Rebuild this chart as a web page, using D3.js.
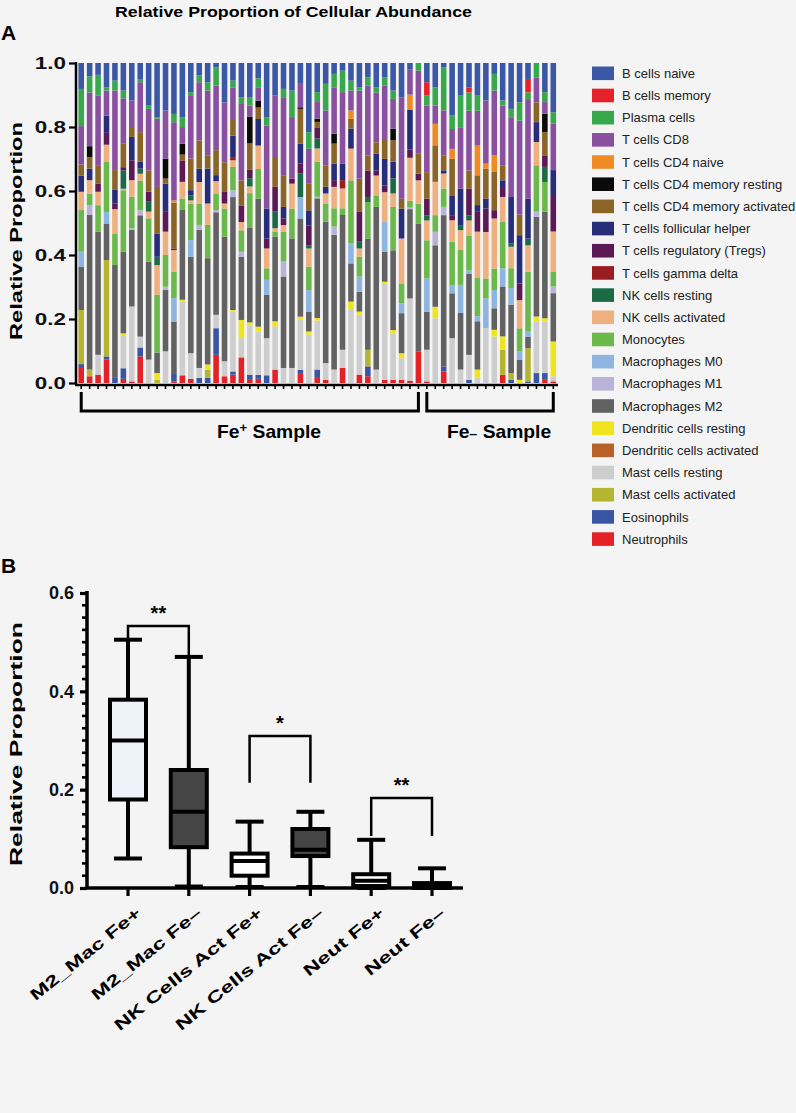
<!DOCTYPE html>
<html><head><meta charset="utf-8">
<script src="https://cdn.jsdelivr.net/npm/d3@7"></script>
<style>
body{margin:0;background:#f4f4f4;}
svg{display:block;font-family:"Liberation Sans",Arial,Helvetica,sans-serif;}
</style>
</head><body>
<svg id="chart" width="796" height="1113"></svg>
<script>
// ---------- DATA ----------
// cell types listed bottom -> top of the stack (legend shows them reversed)
const cellTypes = ["Neutrophils","Eosinophils","Mast cells activated","Mast cells resting",
  "Dendritic cells activated","Dendritic cells resting","Macrophages M2","Macrophages M1",
  "Macrophages M0","Monocytes","NK cells activated","NK cells resting","T cells gamma delta",
  "T cells regulatory (Tregs)","T cells follicular helper","T cells CD4 memory activated",
  "T cells CD4 memory resting","T cells CD4 naive","T cells CD8","Plasma cells","B cells memory","B cells naive"];
const cellColors = ["#e42127","#3a55a3","#b5b532","#cdcdcd","#b8622a","#f0e41e","#626262","#b9b3d9",
  "#8db5df","#6bb84b","#efb07f","#1b6a45","#9a1d20","#5b1a56","#272d78","#8b6428",
  "#0a0a0a","#ef8a25","#8a50a0","#38a84c","#e7212a","#3b58a6"];
const groupNames = ["Fe\u207A Sample","Fe\u2013 Sample"];
const groupSizes = [41,16];
// one row per sample, values in cellTypes order (percent)
const sampleProportions = [
[4.7,1.2,16.9,0,0,0,13.4,0,4.8,13.0,5.7,0,0,0,5.0,3.5,0,0,12.0,11.6,0,8.1],
[2.1,0,2.1,0,0,0,48.3,3.1,0,3.6,4.2,0,0,0,3.6,3.6,3.4,0,16.8,5.0,0,4.2],
[2.6,0,0,6.2,0,0,38.4,0,0,8.3,4.2,0,0,2.6,0,5.7,0,0,21.8,6.4,0,3.7],
[7.3,1.0,30.1,0,0,0,11.4,0,3.6,15.6,5.4,0,0,3.9,5.2,0,0,0,7.8,1.0,0,7.6],
[0,1.6,0,0,0,0,35.3,0,0,9.9,7.6,0,0,1.8,4.2,6.2,0,0,24.9,3.1,0,5.5],
[1.3,3.3,0,10.1,0,0.8,25.4,0,0,19.2,0.5,5.7,0,1.0,0,7.3,0,0,14.2,2.4,0,8.6],
[0.5,0,0,23.4,0,0,23.9,0.5,0,9.9,5.2,0,0,6.2,7.3,3.1,0,0,8.3,0,0,11.7],
[8.3,2.8,0,3.4,0,0,37.9,1.6,0,9.3,2.1,1.6,0,0,2.1,9.3,0,0,15.6,1.0,0,5.0],
[0,0,0,7.3,0,0,30.6,0,0,13.5,2.1,3.1,0,3.1,0,6.7,0,0,19.2,1.0,0,13.3],
[0,0,1.0,0,0,2.1,6.4,0,0,18.0,9.3,2.6,0,0,7.3,14.5,0,0,21.3,0.5,0,16.9],
[0,0,0,9.9,0,0,19.2,1.0,0,9.9,7.3,0,0,6.2,8.8,1.6,6.2,0,15.1,0,0,14.8],
[0.5,2.3,0,0,0,0,16.4,0,7.3,8.3,6.7,0,0,0.5,0,14.3,0,0.7,24.4,2.6,0,15.9],
[2.4,0,0,23.1,0,0.5,28.0,0,0,3.6,5.2,0,0,6.7,0,1.8,3.4,0,5.2,3.1,0,16.9],
[1.3,0,0,8.0,0,0,30.1,0,5.2,11.4,1.0,1.6,0,0,1.6,9.9,0,0,19.5,1.2,0,9.1],
[0,1.6,0,3.1,0,0,43.1,1.6,0,6.7,6.7,0,0,0,4.2,8.8,0,0,18.2,2.1,0,3.9],
[0,1.6,2.6,0,0,1.6,33.2,0,0,10.4,6.7,0,0,0,10.9,4.2,0,0,20.2,2.6,0,6.0],
[8.8,8.3,0,4.2,0,0,32.0,0.7,0,5.2,3.8,0,0,0,1.9,7.8,0,0,20.2,5.7,0,1.3],
[2.1,0,0,4.7,0,0,38.9,0,0,8.8,1.6,0,0,3.6,0,9.3,0,0,18.7,0,0,12.3],
[2.6,1.0,0,18.7,0,0.5,35.3,2.1,0,7.3,2.1,0,1.0,0,6.7,5.2,0,0,9.9,2.1,0,5.5],
[7.8,0,0.5,5.7,0,5.7,19.7,1.6,0,6.7,2.6,0,0,5.2,0,7.8,0,0,23.9,2.1,0,10.7],
[1.0,1.6,0,15.4,0,1.0,29.6,0,0,10.9,2.1,2.6,0,2.6,0,8.3,8.3,0,3.6,2.6,0,10.7],
[1.3,1.2,0,13.5,0,1.6,40.0,0,0,9.3,7.3,0,0,0,8.3,3.6,2.1,0,4.2,2.8,0,4.8],
[0,2.4,0,11.6,0,0,13.5,0,4.7,3.6,6.2,0,0,3.1,9.3,0,0,0,26.0,2.6,0,16.9],
[4.2,0,0,13.5,0,1.6,26.5,0,0,1.6,1.0,5.2,0,7.8,0,9.3,0,0,19.2,0,0,10.2],
[0,0,0,4.7,0,0,28.6,4.7,0,9.3,2.1,0,0,2.1,3.6,9.9,0,0,24.4,2.6,0,8.1],
[0,0,0,4.7,0,0,40.5,0,0,9.3,7.8,0,0,1.6,0,0,0,0,19.2,8.3,0,8.6],
[3.1,1.0,0,15.6,0,1.0,30.6,0,6.7,0,0,7.3,0,3.1,6.2,10.9,0.5,0,7.3,0,0,6.5],
[0,0,0,15.1,0,1.0,6.2,0,6.7,7.3,5.7,1.0,0,6.2,4.7,8.3,0,0,10.9,5.2,0,21.6],
[1.6,2.6,0,15.3,0,0.8,37.4,0.5,0,10.9,4.2,3.1,0,3.3,0,1.9,1.0,0,5.2,3.1,0,9.1],
[1.0,0,0,5.2,0,0,44.1,0,0,5.7,3.1,0,0,0,2.1,6.7,0,0,17.1,8.3,0,6.5],
[0,0,0,4.2,0,0,42.1,2.6,0,5.7,6.7,0,0,2.1,5.2,6.2,3.1,0,14.5,4.2,0,3.4],
[4.7,0,0,5.7,0,0,42.1,0,0,2.1,6.2,0,2.6,0,5.2,0,0,0,22.3,6.7,0,2.4],
[0,0,0,22.8,0,2.6,11.9,0,6.2,19.7,9.9,0,0,0.5,5.7,3.1,0,2.6,6.2,3.1,0,5.5],
[2.6,0,0,18.7,0,1.0,6.2,0,4.7,6.2,2.6,2.1,0,9.3,0,10.4,0,0,27.5,1.0,0,7.6],
[2.1,3.1,5.2,0,0,0,34.8,0,0,11.4,0,1.6,0,8.3,0,4.7,0,0,21.8,2.6,0,4.5],
[0,0,0,4.2,0,0,50.9,0,0,3.6,6.2,0,0,1.6,5.2,3.6,0,0,15.6,1.6,0,7.6],
[1.0,0,0,30.1,0,0.5,9.3,0,9.3,0,9.3,0,0,2.1,8.3,6.2,0,0,16.6,2.6,0,4.5],
[1.0,0,0,14.5,0,1.0,24.9,0,0,13.5,4.2,4.7,0,0,5.2,6.7,3.6,0,9.3,2.6,0,8.6],
[1.0,0,0,6.7,0,1.6,12.5,0,3.1,6.2,14.0,0,0,0,9.3,3.1,0,0,31.7,0,0,10.7],
[0.7,0,0,25.8,0,0,28.0,0.5,0,2.1,13.5,0,0,2.6,12.5,0,0,4.7,7.8,0,0,2.1],
[9.9,0,0,0,0,0,40.0,0,0,6.2,7.3,0,0,2.1,0,6.2,0,0,26.0,2.4,0,0],
[0.5,0,0,9.9,0,0,11.9,0,10.4,11.9,6.2,1.6,0,5.2,0,8.3,0,0,20.8,3.1,4.2,6.0],
[0,0,0,20.2,0,3.6,19.2,4.2,0,5.2,10.4,0,0,0,0,11.4,0,6.7,5.7,5.7,0,7.6],
[3.6,1.6,0,0,0,0,47.2,2.6,0,5.7,4.7,0,0,0,1.0,4.7,0,0,14.0,13.5,0,1.3],
[0,0,0,14.0,0,0,14.0,0,2.6,13.5,6.7,0,0,1.6,6.2,11.4,0,3.1,6.2,4.2,0,16.4],
[0,0,0,4.2,0,0,17.7,0,8.8,10.9,6.2,1.6,0,0,11.4,0,0,0,19.2,9.9,0,10.2],
[0,1.0,0,7.8,0,0,25.4,0,1.0,10.9,4.7,1.6,0,8.3,0,5.7,0,0,18.7,5.7,1.6,7.6],
[0,0,0,1.6,0,2.6,15.1,0,1.6,11.9,14.5,0,0,6.2,2.1,9.3,0,9.3,10.9,4.7,0,10.2],
[0,0,0,17.1,0,0,0,0,9.3,6.2,14.5,0,0,7.3,3.1,9.3,0,1.6,19.7,0,0,11.7],
[0,0,0,14.5,0,2.1,6.7,0,5.7,6.7,15.6,0,0,2.6,0,11.9,0,5.2,20.2,5.2,0,3.4],
[2.6,0,7.8,0,0,4.2,15.6,0,5.7,14.5,7.8,0,0,3.1,2.1,4.7,0,0,18.7,1.6,0,11.7],
[0,1.0,2.1,0,0,0,21.3,0,5.2,6.2,6.7,1.0,0,0,14.5,0,0,0,24.9,2.6,0,14.3],
[0,0,0,0,0,1.0,6.2,0,2.6,7.3,8.8,0,0,5.2,15.1,6.4,0,0,29.4,5.7,0,12.3],
[0,0.5,10.4,0,0,0,3.6,0,1.6,18.7,8.3,2.1,0,0,12.5,0,0,0,31.2,2.1,4.2,5.0],
[0,3.1,0,16.1,0,1.6,31.2,1.6,0,14.5,7.3,0,0,0,6.2,6.2,0,0,7.8,4.5,0,0],
[1.0,2.1,0,16.1,0,1.0,33.2,0,0,9.3,0,4.7,0,3.6,0,7.3,5.7,0,3.6,3.1,0,9.1],
[0.5,0,0,1.6,0,10.9,15.1,2.1,0,4.7,12.5,0,0,11.4,7.8,0,0,0,14.5,3.6,0,15.4]
];
const yTicksA = [0,0.2,0.4,0.6,0.8,1.0];

// Panel B box plot
const boxCategories = ["M2_Mac Fe+","M2_Mac Fe\u2013","NK Cells Act Fe+","NK Cells Act Fe\u2013","Neut Fe+","Neut Fe\u2013"];
const boxMin    = [0.060,0.003,0.002,0.002,0.000,0.000];
const boxQ1     = [0.180,0.083,0.025,0.065,0.004,0.000];
const boxMedian = [0.300,0.155,0.055,0.078,0.015,0.004];
const boxQ3     = [0.383,0.240,0.070,0.120,0.028,0.010];
const boxMax    = [0.505,0.470,0.135,0.155,0.098,0.040];
const boxFills  = ["#eef3fa","#454545","#ffffff","#454545","#ffffff","#454545"];
const yTicksB = [0,0.2,0.4,0.6];
const sigPairs = [[0,1],[2,3],[4,5]];
const sigLabels = ["**","*","**"];
const sigTop = [0.533,0.309,0.183];
const sigArm = [0.456,0.214,0.106];

// ---------- DRAW ----------
const svg = d3.select("#chart");
svg.append("rect").attr("width",796).attr("height",1113).attr("fill","#f4f4f4");

svg.append("text").attr("x",293.5).attr("y",17).attr("text-anchor","middle")
  .attr("font-size",15.5).attr("font-weight","bold")
  .attr("textLength",357).attr("lengthAdjust","spacingAndGlyphs")
  .text("Relative Proportion of Cellular Abundance");
svg.append("text").attr("x",1).attr("y",40).attr("font-size",21).attr("font-weight","bold").text("A");

const nSamples = sampleProportions.length;
const samples = d3.range(nSamples);
const table = sampleProportions.map((row,i)=>{
  const s = d3.sum(row); const o = {id:i};
  cellTypes.forEach((k,j)=>o[k]=row[j]/s); return o;
});
const xA = d3.scaleBand().domain(samples).range([77,557.5]).paddingInner(0.34).paddingOuter(0.17);
const yA = d3.scaleLinear().domain([0,1]).range([383,63]);
const stack = d3.stack().keys(cellTypes)(table);

const gBars = svg.append("g");
stack.forEach((layer,li)=>{
  gBars.append("g").attr("fill",cellColors[li]).selectAll("rect").data(layer).join("rect")
    .attr("x",d=>xA(d.data.id)).attr("width",xA.bandwidth())
    .attr("y",d=>yA(d[1])).attr("height",d=>Math.max(0,yA(d[0])-yA(d[1])));
});

// y axis A
const sxA = 1.36;
const axA = svg.append("g").attr("transform","translate(76,0)")
  .call(d3.axisLeft(yA).tickValues(yTicksA).tickFormat(d3.format(".1f")).tickSize(7).tickPadding(3));
axA.select(".domain").attr("stroke-width",2.5).attr("d","M0,62V385");
axA.selectAll(".tick line").attr("stroke-width",2.2);
axA.selectAll(".tick text").attr("font-size",16.5).attr("font-weight","bold")
  .attr("font-family","Liberation Sans, Arial, sans-serif").attr("fill","#111")
  .attr("x",-10/sxA).attr("transform",`scale(${sxA},1)`);

// x axis A
const axX = svg.append("g").attr("transform","translate(0,385)")
  .call(d3.axisBottom(xA).tickSize(4).tickFormat(""));
axX.select(".domain").attr("stroke-width",2.5).attr("d","M75,0H558");
axX.selectAll(".tick line").attr("stroke-width",1.6).attr("y1",1);

// group brackets
let start = 0;
const labelCenters = [269,499];
groupSizes.forEach((n,gi)=>{
  const x0 = xA(start)+xA.bandwidth()/2, x1 = xA(start+n-1)+xA.bandwidth()/2;
  svg.append("path").attr("d",`M${x0},392V411H${x1}V392`).attr("fill","none")
    .attr("stroke","#000").attr("stroke-width",3);
  const t = svg.append("text").attr("transform",`translate(${labelCenters[gi]},438) scale(1.1,1)`)
    .attr("text-anchor","middle").attr("font-size",17.5).attr("font-weight","bold");
  const nm = groupNames[gi];
  t.append("tspan").text(nm.slice(0,2));
  if(gi===0){
    t.append("tspan").attr("font-size",12).attr("dy",-6).text("+");
    t.append("tspan").attr("dy",6).text(nm.slice(3));
  } else {
    t.append("tspan").attr("font-size",13).text("\u2013");
    t.append("tspan").text(nm.slice(3));
  }
  start += n;
});

// y label A
svg.append("text").attr("transform","translate(22,231) rotate(-90)").attr("text-anchor","middle")
  .attr("font-size",16.5).attr("font-weight","bold")
  .attr("textLength",218).attr("lengthAdjust","spacingAndGlyphs").text("Relative Proportion");

// legend
const legend = svg.append("g");
const legendItems = cellTypes.map((c,i)=>({c,col:cellColors[i]})).reverse();
legendItems.forEach((d,i)=>{
  const cy = 73.3 + i*22.18;
  legend.append("rect").attr("x",592).attr("y",cy-6.8).attr("width",22).attr("height",13.6).attr("fill",d.col);
  legend.append("text").attr("x",622).attr("y",cy+4.6).attr("font-size",13).attr("fill","#222").text(d.c);
});

// ---------- Panel B ----------
svg.append("text").attr("x",1).attr("y",573).attr("font-size",21).attr("font-weight","bold").text("B");
const yB = d3.scaleLinear().domain([0,0.6]).range([888,593]);
const xB = d3.scalePoint().domain(boxCategories).range([128,432]);
const boxW = 36, capW = 28;

const axB = svg.append("g").attr("transform","translate(87,0)")
  .call(d3.axisLeft(yB).tickValues(yTicksB).tickFormat(d3.format(".1f")).tickSize(7).tickPadding(6));
axB.select(".domain").attr("stroke-width",3.5).attr("d","M0,591V889");
axB.selectAll(".tick line").attr("stroke-width",3.2);
axB.selectAll(".tick text").attr("font-size",18).attr("font-weight","bold")
  .attr("font-family","Liberation Sans, Arial, sans-serif").attr("fill","#111");
// minor ticks
const minor = d3.range(0,0.6001,0.025).filter(v=>yTicksB.every(t=>Math.abs(t-v)>1e-6));
svg.append("g").selectAll("line").data(minor).join("line")
  .attr("x1",82).attr("x2",87).attr("y1",d=>yB(d)).attr("y2",d=>yB(d))
  .attr("stroke","#000").attr("stroke-width",2.6);

svg.append("line").attr("x1",85.5).attr("x2",463).attr("y1",888).attr("y2",888)
  .attr("stroke","#000").attr("stroke-width",3.5);
svg.append("g").selectAll("line").data(boxCategories).join("line")
  .attr("x1",d=>xB(d)).attr("x2",d=>xB(d)).attr("y1",888).attr("y2",896)
  .attr("stroke","#000").attr("stroke-width",3.2);

const boxes = svg.append("g");
boxCategories.forEach((c,i)=>{
  const cx = xB(c);
  const g = boxes.append("g").attr("stroke","#000").attr("stroke-width",4).attr("fill","none");
  g.append("line").attr("x1",cx).attr("x2",cx).attr("y1",yB(boxMax[i])).attr("y2",yB(boxQ3[i]));
  g.append("line").attr("x1",cx).attr("x2",cx).attr("y1",yB(boxQ1[i])).attr("y2",yB(boxMin[i]));
  g.append("line").attr("x1",cx-capW/2).attr("x2",cx+capW/2).attr("y1",yB(boxMax[i])).attr("y2",yB(boxMax[i]));
  g.append("line").attr("x1",cx-capW/2).attr("x2",cx+capW/2).attr("y1",yB(boxMin[i])).attr("y2",yB(boxMin[i]));
  g.append("rect").attr("x",cx-boxW/2).attr("width",boxW).attr("y",yB(boxQ3[i]))
    .attr("height",Math.max(1,yB(boxQ1[i])-yB(boxQ3[i]))).attr("fill",boxFills[i]);
  g.append("line").attr("x1",cx-boxW/2).attr("x2",cx+boxW/2).attr("y1",yB(boxMedian[i])).attr("y2",yB(boxMedian[i]));
});

// significance brackets
sigPairs.forEach((p,i)=>{
  const xa = xB(boxCategories[p[0]]), xb = xB(boxCategories[p[1]]);
  svg.append("path").attr("d",`M${xa},${yB(sigArm[i])}V${yB(sigTop[i])}H${xb}V${yB(sigArm[i])}`)
    .attr("fill","none").attr("stroke","#000").attr("stroke-width",2.5);
  svg.append("text").attr("x",(xa+xb)/2).attr("y",yB(sigTop[i])-6).attr("text-anchor","middle")
    .attr("font-size",20).attr("font-weight","bold").text(sigLabels[i]);
});

// y label B
svg.append("text").attr("transform","translate(22,744) rotate(-90)").attr("text-anchor","middle")
  .attr("font-size",17).attr("font-weight","bold")
  .attr("textLength",244).attr("lengthAdjust","spacingAndGlyphs").text("Relative Proportion");

// x labels B
boxCategories.forEach((c,i)=>{
  const cx = xB(c);
  svg.append("text").attr("transform",`translate(${cx+14},${915}) rotate(-39) scale(1.45,1)`).attr("text-anchor","end")
    .attr("font-size",16).attr("font-weight","bold").text(c);
});
</script>
</body></html>
